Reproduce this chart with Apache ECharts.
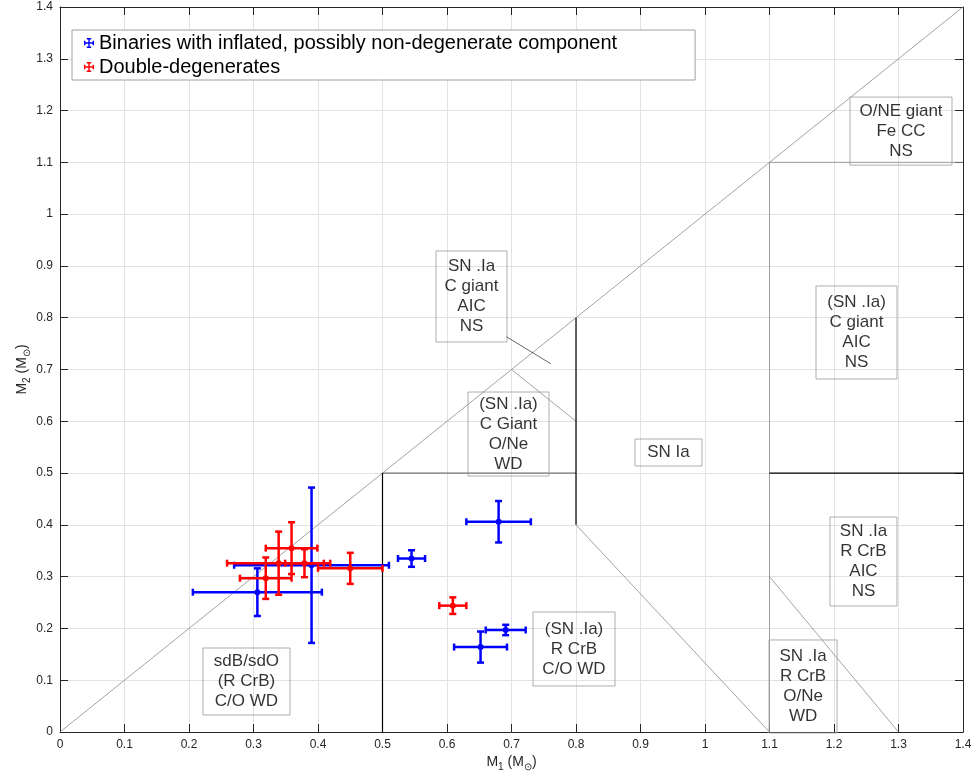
<!DOCTYPE html>
<html><head><meta charset="utf-8">
<script src="https://cdn.jsdelivr.net/npm/echarts@6/dist/echarts.min.js"></script>
<style>html,body{margin:0;padding:0;background:#fff;overflow:hidden;width:971px;height:777px}#c{width:971px;height:777px;position:absolute;left:0;top:0}</style>
</head><body><div id="c"></div>
<script>
// ---- data ----
const axisMin = 0, axisMax = 1.4, axisStep = 0.1;

const binName = 'Binaries with inflated, possibly non-degenerate component';
const binX    = [0.306, 0.390, 0.545, 0.680, 0.691, 0.652];
const binY    = [0.270, 0.322, 0.335, 0.406, 0.197, 0.164];
const binXErr = [0.100, 0.120, 0.021, 0.050, 0.031, 0.041];
const binYErr = [0.046, 0.150, 0.016, 0.040, 0.010, 0.030];

const ddName  = 'Double-degenerates';
const ddX     = [0.609, 0.450, 0.359, 0.339, 0.379, 0.319];
const ddY     = [0.244, 0.316, 0.355, 0.326, 0.326, 0.297];
const ddXErr  = [0.021, 0.050, 0.040, 0.080, 0.030, 0.040];
const ddYErr  = [0.016, 0.030, 0.050, 0.061, 0.027, 0.040];

// region boundary segments [[x1,y1],[x2,y2]]
const segGrey  = [[[0,0],[1.4,1.4]], [[0.7,0.7],[0.8,0.6]], [[0.8,0.4],[1.1,0]],
                  [[1.1,0],[1.1,1.1]], [[1.1,1.1],[1.4,1.1]], [[1.1,0.3],[1.3,0]]];
const segDark  = [[[0.5,0.5],[0.8,0.5]]];
const segBlack = [[[0.5,0],[0.5,0.5]], [[0.8,0.4],[0.8,0.8]], [[1.1,0.5],[1.4,0.5]]];
const arrowFrom = [0.6925, 0.763];
const arrowTo   = [0.761, 0.711];

// annotation texts and anchor (centre) in data coordinates
const noteText = ['SN .Ia\nC giant\nAIC\nNS', '(SN .Ia)\nC Giant\nO/Ne\nWD', 'SN Ia',
                  '(SN .Ia)\nC giant\nAIC\nNS', 'O/NE giant\nFe CC\nNS', 'SN .Ia\nR CrB\nAIC\nNS',
                  'SN .Ia\nR CrB\nO/Ne\nWD', 'sdB/sdO\n(R CrB)\nC/O WD', '(SN .Ia)\nR CrB\nC/O WD'];
const noteX = [0.638, 0.6953, 0.9434, 1.2349, 1.3039, 1.2457, 1.152, 0.2891, 0.7969];
const noteY = [0.841, 0.5754, 0.5397, 0.7714, 1.1604, 0.3292, 0.0879, 0.0975, 0.1603];
// box sizes (px)
const noteW = [71, 81, 67, 81, 102, 67, 68, 87, 82];
const noteH = [91, 84, 27, 93, 68, 89, 93, 67, 74];

// ---- chart ----
const FONT = "'Liberation Sans', Arial, Helvetica, sans-serif";
const AX = '#262626';
const chart = echarts.init(document.getElementById('c'), null, {renderer: 'canvas', width: 971, height: 777});

function errData(xs, ys, ex, ey) { return xs.map((x, i) => [x, ys[i], ex[i], ey[i]]); }

function errRender(color) {
  return function (params, api) {
    const x = api.value(0), y = api.value(1), ex = api.value(2), ey = api.value(3);
    const c = api.coord([x, y]);
    const l = api.coord([x - ex, y]), r = api.coord([x + ex, y]);
    const t = api.coord([x, y + ey]), b = api.coord([x, y - ey]);
    const cap = 3.5;
    const st = {stroke: color, lineWidth: 2.5, fill: null};
    const ln = (x1, y1, x2, y2) => ({type: 'line', shape: {x1, y1, x2, y2}, style: st});
    return {type: 'group', children: [
      ln(l[0], l[1], r[0], r[1]),
      ln(t[0], t[1], b[0], b[1]),
      ln(l[0], l[1] - cap, l[0], l[1] + cap),
      ln(r[0], r[1] - cap, r[0], r[1] + cap),
      ln(t[0] - cap, t[1], t[0] + cap, t[1]),
      ln(b[0] - cap, b[1], b[0] + cap, b[1]),
      {type: 'circle', shape: {cx: c[0], cy: c[1], r: 3}, style: {fill: color}}
    ]};
  };
}

const segSeries = [];
function addSegs(list, color, width) {
  list.forEach(s => segSeries.push({
    type: 'line', data: s, symbol: 'none', silent: true, z: 1,
    lineStyle: {color, width}, xAxisIndex: 0, yAxisIndex: 0
  }));
}
addSegs(segGrey, '#8a8a8a', 0.8);
addSegs(segDark, '#555555', 1);
addSegs(segBlack, '#000000', 1.2);
segSeries[0].markLine = {
  silent: true, symbol: ['none', 'arrow'], symbolSize: [0, 7], animation: false,
  label: {show: false}, lineStyle: {color: '#000', width: 0.6, type: 'solid'},
  data: [[{coord: arrowFrom}, {coord: arrowTo}]]
};

const noteData = noteText.map((t, i) => {
  const lines = t.split('\n').length;
  const lh = 20;
  const padV = (noteH[i] - lines * lh) / 2;
  return {
    value: [noteX[i], noteY[i]],
    label: {
      formatter: t, width: noteW[i], padding: [padV, 0, padV, 0]
    }
  };
});

const errIcon = 'path://M0,4.3h10v1.4h-10z M4.3,0h1.4v10h-1.4z M0,2.8h1.4v4.4h-1.4z M8.6,2.8h1.4v4.4h-1.4z M2.8,0h4.4v1.4h-4.4z M2.8,8.6h4.4v1.4h-4.4z';

const axisCommon = {
  type: 'value', min: axisMin, max: axisMax, interval: axisStep,
  axisLine: {show: true, onZero: false, lineStyle: {color: AX, width: 1}},
  axisTick: {show: true, inside: true, length: 8, lineStyle: {color: AX}},
  axisLabel: {color: AX, fontSize: 12, fontFamily: FONT, margin: 7},
  splitLine: {show: true, lineStyle: {color: '#e2e2e2', width: 1}}
};
const axisMirror = {
  type: 'value', min: axisMin, max: axisMax, interval: axisStep,
  axisLine: {show: true, onZero: false, lineStyle: {color: AX, width: 1}},
  axisTick: {show: true, inside: true, length: 8, lineStyle: {color: AX}},
  axisLabel: {show: false}, splitLine: {show: false}
};
const nameRich = {
  m: {fontSize: 14, fontFamily: FONT, color: AX, lineHeight: 20},
  s: {fontSize: 10, fontFamily: FONT, color: AX, lineHeight: 10, verticalAlign: 'bottom'}
};

chart.setOption({
  animation: false,
  backgroundColor: '#fff',
  grid: {left: 60, right: 8, top: 7, bottom: 45, containLabel: false, outerBoundsMode: 'none'},
  xAxis: [
    Object.assign({}, axisCommon, {
      position: 'bottom',
      name: '{m|M}{s|1}{m| (M}{s|⊙}{m|)}', nameLocation: 'middle', nameGap: 20,
      nameMoveOverlap: false,
      nameTextStyle: {rich: nameRich}
    }),
    Object.assign({}, axisMirror, {position: 'top'})
  ],
  yAxis: [
    Object.assign({}, axisCommon, {
      position: 'left',
      name: '{m|M}{s|2}{m| (M}{s|⊙}{m|)}', nameLocation: 'middle', nameGap: 28,
      nameMoveOverlap: false,
      nameTextStyle: {rich: nameRich}
    }),
    Object.assign({}, axisMirror, {position: 'right'})
  ],
  legend: {
    data: [
      {name: binName, icon: errIcon, itemStyle: {color: '#0000ff'}},
      {name: ddName, icon: errIcon, itemStyle: {color: '#ff0000'}}
    ],
    orient: 'vertical', left: 72, top: 30, padding: [3, 78, 3, 12], itemGap: 4,
    itemWidth: 10, itemHeight: 12, selectedMode: false,
    borderColor: '#a0a0a0', borderWidth: 1, backgroundColor: '#fff',
    textStyle: {fontSize: 20, fontFamily: FONT, color: '#000'}
  },
  series: segSeries.concat([
    {
      type: 'scatter', name: 'notes', data: noteData, symbolSize: 0, silent: true, z: 3,
      label: {
        show: true, position: 'inside', align: 'center', verticalAlign: 'middle',
        fontSize: 17, lineHeight: 20, fontFamily: FONT, color: '#000',
        borderColor: '#9a9a9a', borderWidth: 1
      }
    },
    {
      type: 'custom', name: binName, data: errData(binX, binY, binXErr, binYErr),
      renderItem: errRender('#0000ff'), itemStyle: {color: '#0000ff'}, z: 4,
      encode: {x: 0, y: 1}
    },
    {
      type: 'custom', name: ddName, data: errData(ddX, ddY, ddXErr, ddYErr),
      renderItem: errRender('#ff0000'), itemStyle: {color: '#ff0000'}, z: 5,
      encode: {x: 0, y: 1}
    }
  ])
});
</script></body></html>
